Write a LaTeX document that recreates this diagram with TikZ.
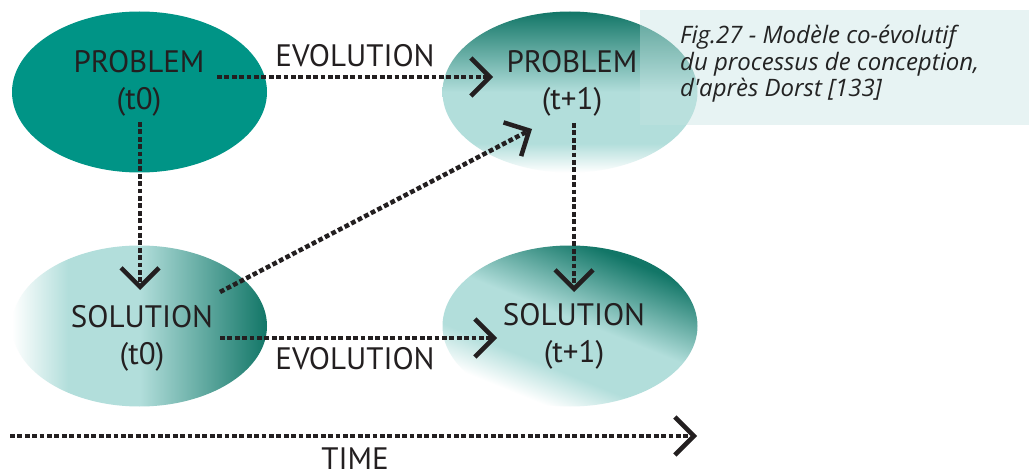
\documentclass[tikz,border=0pt]{standalone}
\usepackage{fontspec}
\setmainfont{PT Sans}
\newfontfamily\capfont{Open Sans}
\usetikzlibrary{shapes.geometric,arrows.meta}
\definecolor{ink}{RGB}{35,31,32}
\definecolor{capink}{RGB}{35,35,35}
\definecolor{tealmain}{RGB}{0,148,134}
\definecolor{tealdark}{RGB}{18,118,103}
\definecolor{teallight}{RGB}{178,222,219}
\definecolor{capbg}{RGB}{197,227,225}
\pgfdeclareverticalshading{probshade}{100bp}{color(0bp)=(white); color(25bp)=(white); color(34bp)=(teallight); color(50bp)=(teallight); color(75bp)=(tealdark); color(100bp)=(tealdark)}
\pgfdeclarehorizontalshading{solshadeA}{100bp}{color(0bp)=(white); color(25bp)=(white); color(36bp)=(teallight); color(50bp)=(teallight); color(75bp)=(tealdark); color(100bp)=(tealdark)}
\pgfdeclareverticalshading{solshadeB}{100bp}{color(0bp)=(white); color(28bp)=(white); color(38bp)=(teallight); color(52bp)=(teallight); color(72bp)=(tealdark); color(100bp)=(tealdark)}
\begin{document}
\begin{tikzpicture}[x=1pt,y=-1pt,
  blob/.style={ellipse, minimum width=255pt, minimum height=161pt, inner sep=0pt},
  lbl/.style={font=\fontsize{31}{37}\selectfont, text=ink, inner sep=0pt, align=center},
  arr/.style={draw=ink, line width=4.5pt, dash pattern=on 4.8pt off 2.6pt,
    -{Straight Barb[length=19pt, width=38pt, line width=4.5pt]}},
  capbox/.style={fill=capbg, fill opacity=0.4, draw=none},
  captxt/.style={font=\capfont\itshape\fontsize{24}{26.7}\selectfont, text=capink, inner sep=0pt, align=left, anchor=north west}]
\useasboundingbox (0,0) rectangle (1029,476);
\fill[white] (0,0) rectangle (1029,476);
% ellipses
\node[blob, fill=tealmain] (p0) at (139.5,92) {};
\node[blob, shading=probshade] (p1) at (570,92) {};
\node[blob, shading=solshadeA] (s0) at (139.5,326) {};
\node[blob, shading=solshadeB, shading angle=-22] (s1) at (570,326) {};
% caption box
\node[capbox, minimum width=389pt, minimum height=115pt, anchor=north west, inner sep=0pt] (cap) at (640,10) {};
\node[captxt] (capt) at (680,25) {Fig.27 - Modèle co-évolutif\\du processus de conception,\\d'après Dorst [133]};
% labels
\node[lbl] (p0t) at (139,83) {PROBLEM\\(t0)};
\node[lbl] (p1t) at (572,83) {PROBLEM\\(t+1)};
\node[lbl] (s0t) at (142,338) {SOLUTION\\(t0)};
\node[lbl] (s1t) at (574,336) {SOLUTION\\(t+1)};
\node[lbl, anchor=base] (ev1) at (355,67) {EVOLUTION};
\node[lbl, anchor=base] (ev2) at (355,369) {EVOLUTION};
\node[lbl, anchor=base] (time) at (355,469) {TIME};
% arrow end points
\coordinate (a1s) at (217,77);
\coordinate (a1e) at (493,77);
\coordinate (a2s) at (140,122);
\coordinate (a2e) at (140,290);
\coordinate (a3s) at (574,123);
\coordinate (a3e) at (574,292);
\coordinate (a4s) at (220,292);
\coordinate (a4e) at (532,129);
\coordinate (a5s) at (220,338);
\coordinate (a5e) at (497,338);
\coordinate (a6s) at (10,436);
\coordinate (a6e) at (697,436);
\draw[arr] (a1s) -- (a1e);
\draw[arr] (a2s) -- (a2e);
\draw[arr] (a3s) -- (a3e);
\draw[arr] (a4s) -- (a4e);
\draw[arr] (a5s) -- (a5e);
\draw[arr] (a6s) -- (a6e);
\end{tikzpicture}
\end{document}
